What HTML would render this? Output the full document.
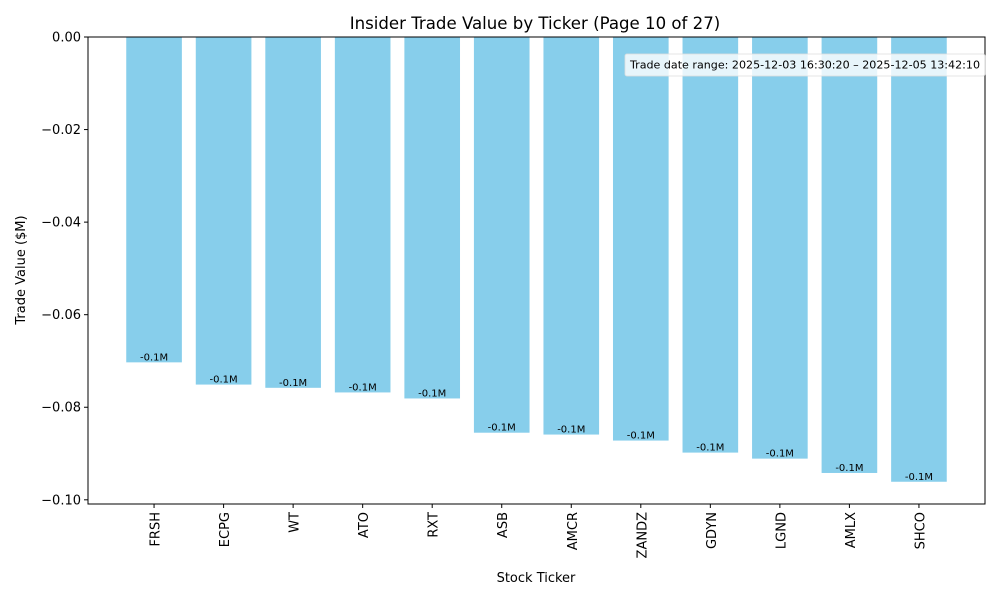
<!DOCTYPE html>
<html><head><meta charset="utf-8"><style>
body{margin:0;background:#fff;}
svg text{font-family:"DejaVu Sans","Liberation Sans",sans-serif;}
</style></head><body>
<svg id="chart" width="1000" height="600" xmlns="http://www.w3.org/2000/svg">
<rect width="1000" height="600" fill="#fff"/>
<text x="535" y="29" font-size="16.6" text-anchor="middle">Insider Trade Value by Ticker (Page 10 of 27)</text>
<g id="bars"></g>
<g id="axes"></g>
<text x="536" y="582" font-size="13" text-anchor="middle">Stock Ticker</text>
<text transform="translate(25,270) rotate(-90)" font-size="13" text-anchor="middle">Trade Value ($M)</text>
<g>
<rect x="625" y="54" width="360" height="22" fill="#fff" fill-opacity="0.8" stroke="#ddd" stroke-opacity="0.8" rx="2"/>
<text x="630" y="68.5" font-size="11" textLength="350" lengthAdjust="spacingAndGlyphs">Trade date range: 2025-12-03 16:30:20 – 2025-12-05 13:42:10</text>
</g>
</svg>
<script>
const categories=["FRSH","ECPG","WT","ATO","RXT","ASB","AMCR","ZANDZ","GDYN","LGND","AMLX","SHCO"];
const values=[-0.0703,-0.0751,-0.0758,-0.0768,-0.0781,-0.0855,-0.0859,-0.0872,-0.0898,-0.0911,-0.0942,-0.0961];
const valueLabels=["-0.1M","-0.1M","-0.1M","-0.1M","-0.1M","-0.1M","-0.1M","-0.1M","-0.1M","-0.1M","-0.1M","-0.1M"];
const yTicks=[0,-0.02,-0.04,-0.06,-0.08,-0.10];
const L=88,R=985,T=37,B=504;
const n=categories.length;
const xmin=-0.95,xmax=n-1+0.95;
const ymin=Math.min(...values)*1.05,ymax=0;
const xs=i=>L+(i-xmin)/(xmax-xmin)*(R-L);
const ys=v=>T+(ymax-v)/(ymax-ymin)*(B-T);
const NS="http://www.w3.org/2000/svg";
function mk(t,a,p){const e=document.createElementNS(NS,t);for(const k in a)e.setAttribute(k,a[k]);p.appendChild(e);return e;}
const bars=document.getElementById('bars'),axes=document.getElementById('axes');
const bw=0.8*(R-L)/(xmax-xmin);
categories.forEach((c,i)=>{
 const y0=ys(0),y1=ys(values[i]);
 const r=mk('rect',{x:xs(i)-bw/2,y:Math.min(y0,y1),width:bw,height:Math.abs(y1-y0),fill:'#87ceeb'},bars);
 
 
 const t=mk('text',{x:xs(i),y:y1-2,'font-size':10,'text-anchor':'middle'},bars);
 t.textContent=valueLabels[i];
 
 
 mk('line',{x1:xs(i),x2:xs(i),y1:B,y2:B+4,stroke:'#000'},axes);
 const xl=mk('text',{transform:`translate(${xs(i)+5.5},${B+8}) rotate(-90)`,'font-size':13,'text-anchor':'end'},axes);
 xl.textContent=c;
 
 
});
yTicks.forEach(v=>{
 const y=ys(v);
 mk('line',{x1:L-4,x2:L,y1:y,y2:y,stroke:'#000'},axes);
 const t=mk('text',{x:L-7,y:y+4.5,'font-size':13,'text-anchor':'end'},axes);
 t.textContent=v===0?'0.00':'\u2212'+Math.abs(v).toFixed(2);
 
 
});
const f=mk('rect',{x:L,y:T,width:R-L,height:B-T,fill:'none',stroke:'#000','stroke-width':1},axes);


</script>
</body></html>
